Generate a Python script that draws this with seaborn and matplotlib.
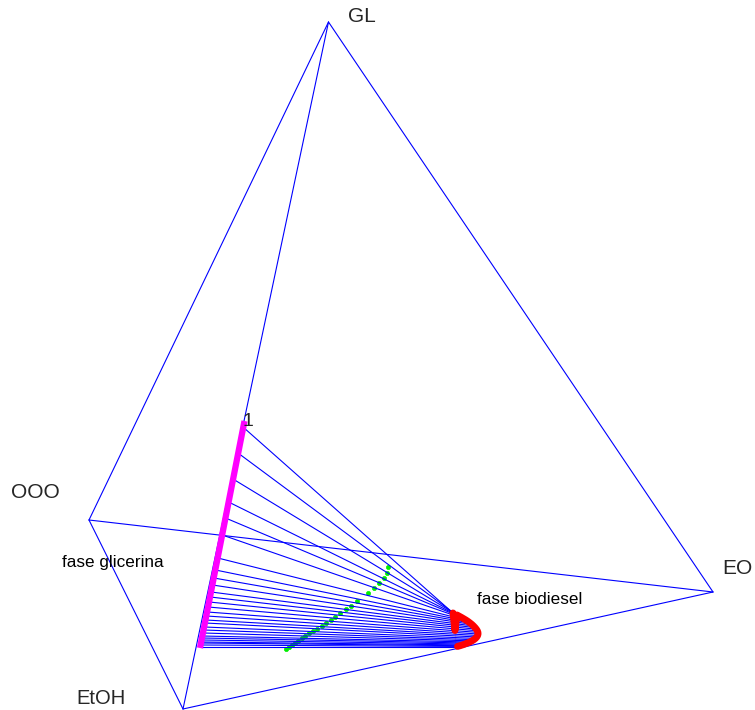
import matplotlib
matplotlib.use("Agg")
import matplotlib.pyplot as plt
import seaborn as sns
import pandas as pd
import numpy as np

sns.set_style("white")
plt.rcParams['font.family'] = ['Liberation Sans', 'DejaVu Sans']

# projected tetrahedron vertices (2D projection coordinates)
vertex_names = ["GL", "OOO", "EtOH", "EO"]
vertex_x = [328.5, 89.0, 183.0, 713.0]
vertex_y = [22.0, 520.0, 709.0, 592.0]
edges = [(0, 1), (0, 2), (0, 3), (1, 2), (1, 3), (2, 3)]

# glycerin phase (magenta) ends of tie lines
gly_y = [427, 453, 479, 502, 518, 535, 558, 570, 578, 585, 592, 597, 602, 607,
         612, 616, 620, 623, 627, 630, 633, 636, 638, 640, 642, 643, 645, 647]
gly_x = [243.0, 238.0, 233.0, 228.6, 225.5, 222.2, 217.8, 215.5, 213.9, 212.6,
         211.2, 210.3, 209.3, 208.3, 207.4, 206.6, 205.8, 205.2, 204.5, 203.9,
         203.3, 202.7, 202.3, 201.9, 201.6, 201.4, 201.0, 200.6]

# biodiesel phase (red) ends of tie lines
bio_x = [453.0, 455.0, 457.0, 459.2, 461.4, 463.6, 465.8, 467.9, 469.9, 471.8,
         473.5, 475.0, 476.3, 477.3, 477.9, 478.0, 477.6, 476.7, 475.4, 473.8,
         471.9, 469.8, 467.5, 465.0, 462.5, 460.0, 457.5, 455.0]
bio_y = [613.0, 614.0, 615.0, 616.2, 617.4, 618.7, 620.0, 621.4, 622.9, 624.4,
         626.0, 627.6, 629.2, 630.8, 632.4, 634.0, 635.5, 637.0, 638.4, 639.7,
         640.9, 642.0, 643.0, 644.0, 644.9, 645.7, 646.4, 647.0]

# glycerin phase boundary line
mag_x = [244.5, 200.0]
mag_y = [421.0, 648.0]

# overall compositions (green)
feed_x = [388, 387, 384, 379, 374, 368, 357, 351, 346, 340, 335, 331, 326, 322,
          317, 313, 309, 305, 302, 298, 295, 292, 289, 286]
feed_y = [567, 573, 578, 583, 588, 593, 601, 606, 609, 613, 617, 620, 623, 626,
          629, 631, 633, 636, 638, 641, 643, 645, 647, 649]

fig = plt.figure(figsize=(7.55, 7.10), dpi=100)
ax = fig.add_axes([0, 0, 1, 1])
ax.set_xlim(0, 755)
ax.set_ylim(710, 0)
ax.axis("off")

# tetrahedron edges
edge_rows = []
for k, (i, j) in enumerate(edges):
    edge_rows.append({"x": vertex_x[i], "y": vertex_y[i], "u": k})
    edge_rows.append({"x": vertex_x[j], "y": vertex_y[j], "u": k})
edf = pd.DataFrame(edge_rows)
sns.lineplot(data=edf, x="x", y="y", units="u", estimator=None, sort=False,
             color="#0000ff", lw=0.8, ax=ax, legend=False)

# tie lines
tie_rows = []
for k in range(len(gly_x)):
    tie_rows.append({"x": gly_x[k], "y": gly_y[k], "u": k})
    tie_rows.append({"x": bio_x[k], "y": bio_y[k], "u": k})
tdf = pd.DataFrame(tie_rows)
sns.lineplot(data=tdf, x="x", y="y", units="u", estimator=None, sort=False,
             color="#0000ff", lw=0.8, ax=ax, legend=False)

# glycerin phase line
sns.lineplot(x=mag_x, y=mag_y, sort=False, color="#ff00ff", lw=4.5,
             solid_capstyle="butt", ax=ax, legend=False)

# biodiesel phase curve
sns.lineplot(x=bio_x, y=bio_y, sort=False, color="#ff0000", lw=5,
             solid_joinstyle="round", solid_capstyle="round", ax=ax,
             legend=False)

# overall compositions
sns.scatterplot(x=feed_x, y=feed_y, color="#00ee00", marker="o", s=9,
                edgecolor="#00ee00", linewidth=0.5, ax=ax, legend=False)

# labels
fs = 15
ax.text(348, 17, "GL", fontsize=fs, va="center", ha="left")
ax.text(11, 493, "OOO", fontsize=fs, va="center", ha="left")
ax.text(76, 699, "EtOH", fontsize=14.5, va="center", ha="left")
ax.text(722, 568, "EO", fontsize=fs, va="center", ha="left")
ax.text(242, 421, "1", fontsize=14, va="center", ha="left")
ax.text(62, 562, "fase glicerina", fontsize=12.3, va="center", ha="left",
        color="black")
ax.text(477, 599, "fase biodiesel", fontsize=12.3, va="center", ha="left",
        color="black")

fig.savefig("out.png", dpi=100)
